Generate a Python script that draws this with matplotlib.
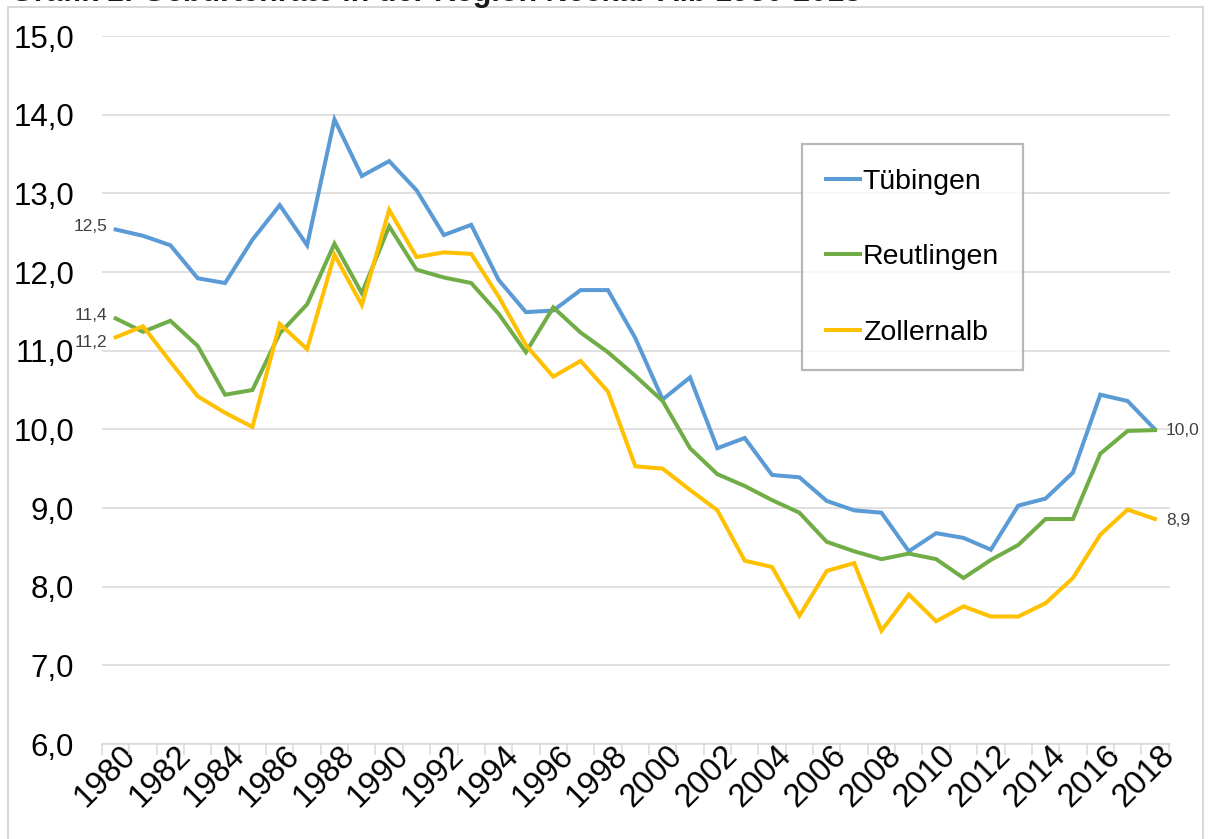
import matplotlib.pyplot as plt
from matplotlib.patches import Rectangle
from matplotlib.ticker import FixedLocator, NullFormatter

plt.rcParams["font.family"] = ["Liberation Sans", "DejaVu Sans"]

GRID_COLOR = "#D9D9D9"
LABEL_COLOR = "#404040"
BLUE = "#5B9BD5"
GREEN = "#70AD47"
YELLOW = "#FFC000"

years = list(range(1980, 2019))
tuebingen = [12.54, 12.46, 12.34, 11.92, 11.86, 12.41, 12.85, 12.34, 13.94, 13.22,
             13.41, 13.04, 12.47, 12.60, 11.90, 11.49, 11.51, 11.77, 11.77, 11.16,
             10.38, 10.66, 9.76, 9.89, 9.42, 9.39, 9.09, 8.97, 8.94, 8.45,
             8.68, 8.62, 8.47, 9.03, 9.12, 9.45, 10.44, 10.36, 10.00]
reutlingen = [11.41, 11.24, 11.38, 11.06, 10.44, 10.50, 11.22, 11.59, 12.36, 11.73,
              12.58, 12.03, 11.93, 11.86, 11.47, 10.98, 11.55, 11.23, 10.98, 10.68,
              10.36, 9.76, 9.43, 9.28, 9.10, 8.94, 8.57, 8.45, 8.35, 8.42,
              8.35, 8.11, 8.34, 8.53, 8.86, 8.86, 9.69, 9.98, 9.99]
zollernalb = [11.17, 11.31, 10.86, 10.42, 10.21, 10.03, 11.34, 11.02, 12.22, 11.58,
              12.79, 12.19, 12.25, 12.23, 11.69, 11.07, 10.67, 10.87, 10.48, 9.53,
              9.50, 9.23, 8.97, 8.33, 8.25, 7.63, 8.20, 8.30, 7.44, 7.90,
              7.56, 7.75, 7.62, 7.62, 7.79, 8.11, 8.66, 8.98, 8.86]
series_names = ["Tübingen", "Reutlingen", "Zollernalb"]
y_ticks = [6, 7, 8, 9, 10, 11, 12, 13, 14, 15]
title = "Grafik 1: Geburtenrate in der Region Neckar-Alb 1980-2018"


def de(v):
    return f"{v:.1f}".replace(".", ",")


fig = plt.figure(figsize=(12.1, 8.39), dpi=100)
fig.patch.set_facecolor("white")

# outer chart border (Excel chart area)
fig.add_artist(Rectangle((8 / 1210, -0.05), 1195 / 1210, 1.05 - 7 / 839,
                         transform=fig.transFigure, fill=False,
                         edgecolor=GRID_COLOR, linewidth=1.5))
# title, cut off at the top edge like in the source screenshot
fig.text(10 / 1210, 1 - 0.5 / 839, title, fontsize=22, weight="bold",
         color="#1A1A1A", va="baseline", ha="left")

ax = fig.add_axes([102 / 1210, 95 / 839, 1068 / 1210, 708 / 839])
x = list(range(len(years)))

for values, name, color in zip([tuebingen, reutlingen, zollernalb], series_names,
                               [BLUE, GREEN, YELLOW]):
    ax.plot(x, values, color=color, linewidth=2.9, label=name,
            solid_joinstyle="miter", zorder=3)

ax.set_xlim(-0.5, len(years) - 0.5)
ax.set_ylim(6, 15)

ax.set_yticks(y_ticks)
ax.set_yticklabels([de(v) for v in y_ticks])
ax.grid(axis="y", color=GRID_COLOR, linewidth=1.1)
ax.set_axisbelow(True)

# rotated year labels: their right end sits a bit right of the category centre
label_offset = 0.55
ax.set_xticks([i + label_offset for i in x[::2]])
ax.set_xticklabels(years[::2], rotation=45, ha="right", va="center",
                   rotation_mode="anchor")
ax.xaxis.set_minor_locator(FixedLocator([i - 0.5 for i in range(len(years) + 1)]))
ax.xaxis.set_minor_formatter(NullFormatter())
ax.tick_params(axis="x", which="major", length=0, pad=5, labelsize=23.5)
ax.tick_params(axis="x", which="minor", length=8, width=1.1, color=GRID_COLOR)
ax.tick_params(axis="y", length=0, pad=20, labelsize=22.5)

for spine in ["top", "right", "left"]:
    ax.spines[spine].set_visible(False)
ax.spines["bottom"].set_color(GRID_COLOR)
ax.spines["bottom"].set_linewidth(1.1)

# data labels
lbl = dict(fontsize=12.5, color=LABEL_COLOR, va="center", annotation_clip=False)
ax.annotate(de(tuebingen[0]), (x[0], tuebingen[0]), xytext=(-6, 2),
            textcoords="offset points", ha="right", **lbl)
ax.annotate(de(reutlingen[0]), (x[0], reutlingen[0]), xytext=(-6, 2),
            textcoords="offset points", ha="right", **lbl)
ax.annotate(de(zollernalb[0]), (x[0], zollernalb[0]), xytext=(-6, -4),
            textcoords="offset points", ha="right", **lbl)
ax.annotate(de(tuebingen[-1]), (x[-1], tuebingen[-1]), xytext=(8, -1),
            textcoords="offset points", ha="left", **lbl)
ax.annotate(de(zollernalb[-1]), (x[-1], zollernalb[-1]), xytext=(8, -1),
            textcoords="offset points", ha="left", **lbl)

leg = ax.legend(loc="upper left", bbox_to_anchor=(0.655, 0.847), fontsize=20.5,
                frameon=True, fancybox=False, borderpad=0.85, labelspacing=1.75,
                handlelength=1.2, handletextpad=0.1, borderaxespad=0)
leg.get_frame().set_edgecolor("#A6A6A6")
leg.get_frame().set_linewidth(1.6)
for line in leg.get_lines():
    line.set_linewidth(2.9)

fig.savefig("out.png", dpi=100)
